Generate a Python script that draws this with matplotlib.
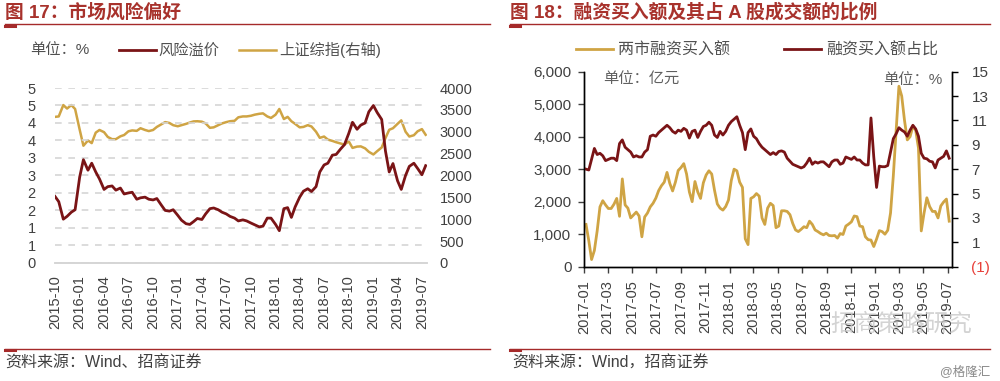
import numpy as np
import pandas as pd
import matplotlib.pyplot as plt
from matplotlib.lines import Line2D

plt.rcParams['font.family'] = ['Liberation Sans', 'Noto Sans CJK SC']

DARK_RED = "#7A1416"
GOLD = "#CFA444"
TITLE_RED = "#A8322C"
RULE_RED = "#A52A2A"
TXT = "#404040"

# ---------------- 图17 data (semi-monthly) ----------------
dates_17 = pd.date_range("2015-10-01", periods=92, freq="SMS")
risk_premium = [
    1.90, 1.75, 1.25, 1.33, 1.45, 1.52, 2.45, 2.95, 2.65, 2.85,
    2.60, 2.40, 2.10, 2.18, 2.20, 2.08, 2.14, 1.97, 2.00, 2.02,
    1.82, 1.86, 1.88, 1.82, 1.80, 1.84, 1.65, 1.50, 1.48, 1.52,
    1.36, 1.22, 1.12, 1.10, 1.18, 1.27, 1.24, 1.40, 1.55, 1.57,
    1.52, 1.45, 1.40, 1.33, 1.28, 1.20, 1.23, 1.20, 1.14, 1.09,
    1.03, 1.05, 1.28, 1.28, 1.10, 0.92, 1.55, 1.58, 1.30, 1.60,
    1.88, 2.05, 2.12, 2.04, 2.18, 2.60, 2.80, 2.85, 3.08, 3.10,
    3.26, 3.38, 3.70, 4.02, 3.82, 3.94, 4.00, 4.32, 4.50, 4.30,
    4.10, 3.20, 2.60, 2.84, 2.35, 2.10, 2.50, 2.76, 2.85, 2.70,
    2.52, 2.78]
sh_index = [
    3340, 3350, 3610, 3530, 3610, 3520, 3050, 2680, 2800, 2740,
    2980, 3040, 2990, 2880, 2830, 2830, 2895, 2925, 3010, 3030,
    3020, 3080, 3040, 3015, 3040, 3110, 3170, 3220, 3200, 3150,
    3125, 3150, 3180, 3210, 3236, 3240, 3230, 3190, 3090, 3100,
    3150, 3190, 3220, 3240, 3250, 3330, 3350, 3350, 3365, 3390,
    3410, 3420, 3350, 3315, 3390, 3520, 3290, 3340, 3240, 3180,
    3100, 3110, 3150, 3120, 3000, 2860, 2890, 2820, 2790, 2760,
    2730, 2705, 2780, 2630, 2660, 2665, 2620, 2540, 2480, 2555,
    2640, 2855, 3045, 3080, 3180, 3260, 3000, 2890, 2920, 3010,
    3060, 2930]
left_ticks_17 = np.arange(0, 5.01, 0.5)
left_labels_17 = ["0", "1", "1", "2", "2", "3", "3", "4", "4", "5", "5"]
right_ticks_17 = np.arange(0, 4001, 500)

# ---------------- 图18 data (weekly) ----------------
dates_18 = pd.date_range("2017-01-06", periods=131, freq="W-FRI")
margin_buy = [
    1300, 800, 220, 500, 1100, 1840, 2030, 1900, 1790, 1790,
    1920, 2100, 1550, 2700, 1900, 1800, 1500, 1590, 1680, 1560,
    920, 1530, 1650, 1840, 1950, 2110, 2340, 2490, 2600, 2900,
    2560, 2330, 2600, 2960, 3050, 3170, 2850, 2300, 2000, 2620,
    2300, 2100, 2580, 2820, 2950, 2850, 2350, 1930, 1800, 1740,
    1850, 2050, 2650, 3000, 2950, 2600, 2440, 860, 680, 2100,
    2150, 2250, 2170, 1500, 1300, 1800, 1950, 1880, 1200, 1250,
    1720, 1720, 1700, 1600, 1330, 1130, 1080, 1150, 1230, 1200,
    1400, 1300, 1130, 1080, 1020, 980, 1030, 960, 950, 960,
    880, 1020, 990, 1250, 1310, 1380, 1560, 1540, 1250, 1230,
    920, 830, 820, 620, 850, 1110, 1080, 1000, 1120, 1650,
    2800, 4200, 5550, 5250, 4500, 3900, 4000, 4320, 4200, 3650,
    1100, 1650, 2120, 1850, 1700, 1700, 1500, 1870, 1990, 2080,
    1400]
buy_ratio = [
    7.0, 6.93, 7.8, 8.7, 8.2, 8.3, 8.1, 7.7, 7.8, 7.9,
    7.9, 7.7, 9.1, 9.4, 8.8, 8.6, 8.4, 8.0, 8.1, 8.0,
    8.0, 8.4, 8.6, 9.7, 9.8, 9.7, 10.0, 10.2, 10.4, 10.6,
    10.4, 10.1, 9.95, 10.2, 10.1, 10.35, 10.2, 9.55, 10.1, 10.2,
    9.6, 10.1, 10.5, 10.6, 10.85, 10.6, 9.8, 9.6, 10.1, 9.8,
    10.1, 10.6, 10.9, 11.1, 11.3, 10.6, 10.0, 8.6, 10.0, 10.3,
    9.7, 9.5, 9.1, 8.8, 8.6, 8.4, 8.2, 8.36, 8.2, 8.45,
    8.5, 8.4, 7.9, 7.65, 7.4, 7.3, 7.2, 7.1, 7.2, 7.5,
    7.9, 7.4, 7.6, 7.5, 7.6, 7.6, 7.4, 7.2, 7.6, 7.75,
    7.75, 7.4, 7.5, 8.0, 7.9, 7.8, 8.0, 7.75, 7.75, 7.5,
    7.35, 7.35, 11.2, 8.0, 5.5, 7.25, 7.2, 7.2, 7.3, 8.4,
    9.5, 9.9, 10.4, 10.2, 10.05, 9.7, 10.2, 10.6, 10.3, 9.7,
    8.3, 7.9, 7.85, 7.65, 7.6, 7.1, 7.75, 7.9, 8.05, 8.5,
    7.9]
left_ticks_18 = np.arange(0, 6001, 1000)
right_ticks_18 = np.arange(-1, 15.1, 2)
right_labels_18 = ["(1)", "1", "3", "5", "7", "9", "11", "13", "15"]

# ============================================================

fig = plt.figure(figsize=(10, 3.81), dpi=100)

# ---------- 图17 ----------
ax1 = fig.add_axes([0.055, 0.31, 0.372, 0.459])
ax1b = ax1.twinx()
ax1.set_zorder(ax1b.get_zorder() + 1)
ax1.patch.set_visible(False)

l1, = ax1.plot(dates_17, risk_premium, color=DARK_RED, lw=2.0, label="风险溢价")
l2, = ax1b.plot(dates_17, sh_index, color=GOLD, lw=1.8, label="上证综指(右轴)")

ax1.set_ylim(0, 5)
ax1.set_yticks(left_ticks_17)
ax1.set_yticklabels(left_labels_17)
ax1b.set_ylim(0, 4000)
ax1b.set_yticks(right_ticks_17)
ax1.grid(axis="y", ls=(0, (4, 4)), color="#D5D5D5", lw=1.2)

x17_ticks = pd.date_range("2015-10-01", "2019-07-01", freq="3MS")
ax1.set_xlim(pd.Timestamp("2015-10-01"), pd.Timestamp("2019-07-20"))
ax1.set_xticks(x17_ticks)
ax1.set_xticklabels([d.strftime("%Y-%m") for d in x17_ticks], rotation=90)

for a in (ax1, ax1b):
    for s in ("top", "left", "right"):
        a.spines[s].set_visible(False)
    a.spines["bottom"].set_color("#D5D5D5")
    a.spines["bottom"].set_linewidth(1.2)
ax1.tick_params(axis="y", length=0, pad=14, labelsize=10.5, colors=TXT)
ax1b.tick_params(axis="y", length=0, pad=9, labelsize=10.5, colors=TXT)
ax1.tick_params(axis="x", length=0, pad=9, labelsize=10.5, colors=TXT)

fig.legend(handles=[l1, l2], loc="center", bbox_to_anchor=(0.25, 0.869), ncol=2,
           frameon=False, fontsize=11, handlelength=2.4, handletextpad=0.2,
           columnspacing=1.3, labelcolor="#505050")
fig.text(0.03, 0.869, "单位：%", fontsize=11, color="#505050", va="center")

# ---------- 图18 ----------
ax2 = fig.add_axes([0.584, 0.30, 0.368, 0.512])
ax2b = ax2.twinx()

l3, = ax2.plot(dates_18, margin_buy, color=GOLD, lw=2.0, label="两市融资买入额")
l4, = ax2b.plot(dates_18, buy_ratio, color=DARK_RED, lw=2.0, label="融资买入额占比")

ax2.set_ylim(0, 6000)
ax2.set_yticks(left_ticks_18)
ax2.set_yticklabels([f"{v:,}" for v in left_ticks_18])
ax2b.set_ylim(-1, 15)
ax2b.set_yticks(right_ticks_18)
ax2b.set_yticklabels(right_labels_18)

x18_ticks = pd.date_range("2017-01-01", "2019-07-01", freq="2MS")
ax2.set_xlim(pd.Timestamp("2017-01-01"), pd.Timestamp("2019-07-12"))
ax2.set_xticks(x18_ticks)
ax2.set_xticklabels([d.strftime("%Y-%m") for d in x18_ticks], rotation=90)

for a in (ax2, ax2b):
    a.spines["top"].set_visible(False)
    for s in ("left", "right", "bottom"):
        a.spines[s].set_color("black")
        a.spines[s].set_linewidth(1.0)
ax2.tick_params(axis="both", direction="out", length=4, width=1, labelsize=11, colors=TXT)
ax2.tick_params(axis="x", labelsize=10.5, pad=6)
ax2.tick_params(axis="y", pad=5)
ax2b.tick_params(axis="y", direction="out", length=4, width=1, labelsize=11, pad=10,
                 labelcolor=TXT)
ax2b.get_yticklabels()[0].set_color("#E8403A")

fig.legend(handles=[l3, l4], loc="center", bbox_to_anchor=(0.757, 0.869), ncol=2,
           frameon=False, fontsize=11.5, handlelength=2.3, handletextpad=0.3,
           columnspacing=3.4, labelcolor="#505050")
fig.text(0.603, 0.79, "单位：亿元", fontsize=11, color="#606060", va="center")
fig.text(0.942, 0.79, "单位：%", fontsize=11, color="#606060", va="center", ha="right")

# ---------- headers / footers ----------
fig.text(0.005, 0.968, "图 17：市场风险偏好", fontsize=13.5, fontweight="bold",
         color=TITLE_RED, va="center")
fig.text(0.51, 0.968, "图 18：融资买入额及其占 A 股成交额的比例", fontsize=13.5,
         fontweight="bold", color=TITLE_RED, va="center")

for x0, x1 in ((0.005, 0.49), (0.51, 0.99)):
    for yy in (0.936, 0.084):
        fig.add_artist(Line2D([x0, x1], [yy, yy], transform=fig.transFigure,
                              color=RULE_RED, lw=1.0))
        fig.add_artist(Line2D([x0, x0 + 0.01], [yy - 0.003, yy - 0.003],
                              transform=fig.transFigure, color=RULE_RED, lw=2.2))

fig.text(0.005, 0.047, "资料来源：Wind、招商证券", fontsize=11.5, color="#404040", va="center")
fig.text(0.512, 0.047, "资料来源：Wind，招商证券", fontsize=11.5, color="#404040", va="center")

# watermark (sits over the tick labels, as in the source image)
fig.text(0.83, 0.148, "招商策略研究", fontsize=17, color="#C8C8C8", alpha=0.8,
         va="center", zorder=10)
fig.text(0.99, 0.025, "@格隆汇", fontsize=9, color="#8A8A8A", va="center", ha="right")

fig.savefig("out.png", dpi=100)
